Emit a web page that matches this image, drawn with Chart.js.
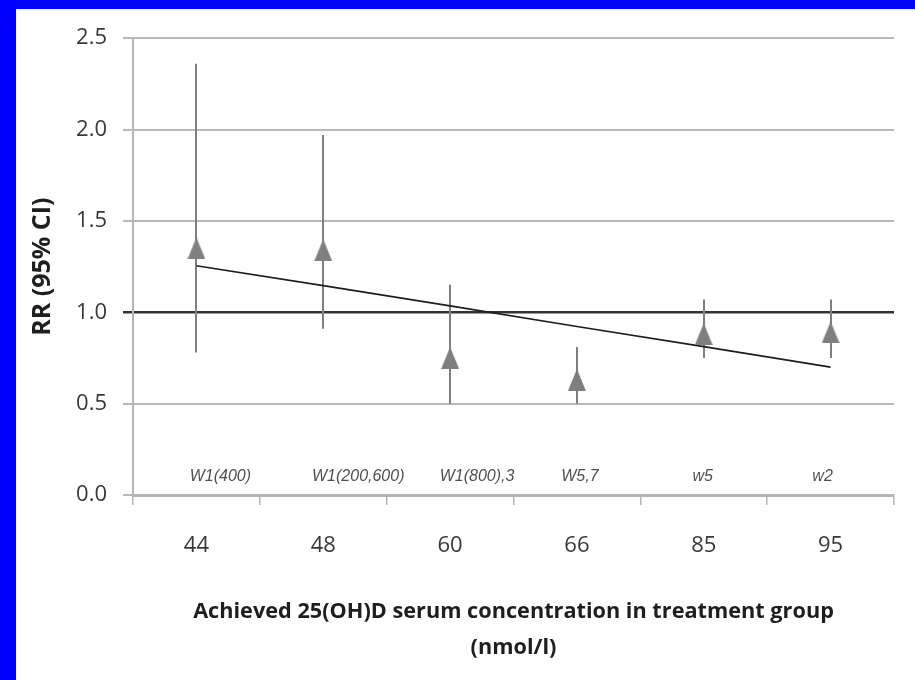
<!DOCTYPE html>
<html>
<head>
<meta charset="utf-8">
<title>RR by achieved 25(OH)D</title>
<script src="https://cdn.jsdelivr.net/npm/chart.js@4.4.1/dist/chart.umd.min.js"></script>
<style>
  html, body { margin: 0; padding: 0; background: #fff; }
  #frame { position: relative; width: 915px; height: 680px; overflow: hidden; background: #fff; }
  .edge { position: absolute; background: #0000ff; }
  #edge-top { left: 0; top: 0; width: 915px; height: 9px; }
  #edge-left { left: 0; top: 0; width: 16px; height: 680px; }
  #chart-box { position: absolute; left: 16px; top: 9px; width: 899px; height: 671px; }
</style>
</head>
<body>
<div id="frame">
  <div class="edge" id="edge-top"></div>
  <div class="edge" id="edge-left"></div>
  <div id="chart-box"><canvas id="chart-rr"></canvas></div>
</div>
<script>
const concentrations = ["44", "48", "60", "66", "85", "95"];
const trialNotes = ["W1(400)", "W1(200,600)", "W1(800),3", "W5,7", "w5", "w2"];
const rr = [1.35, 1.34, 0.75, 0.63, 0.88, 0.89];
const ciLow = [0.78, 0.91, 0.50, 0.50, 0.75, 0.75];
const ciHigh = [2.36, 1.97, 1.15, 0.81, 1.07, 1.07];
const trend = [1.255, 1.146, 1.035, 0.922, 0.812, 0.70];
const yTicks = [0, 0.5, 1.0, 1.5, 2.0, 2.5];

const GREY = "#7f7f7f";
const TEXT = "#383838";
// nudges of the in-plot study labels, they are not centred on their category in the original
const noteShift = [24, 35, 27, 3, -1, -8];

function triangleMarker(w, h, color) {
  const c = document.createElement("canvas");
  c.width = w;
  c.height = h;
  const ctx = c.getContext("2d");
  ctx.fillStyle = color;
  ctx.beginPath();
  ctx.moveTo(w / 2, 0);
  ctx.lineTo(w, h);
  ctx.lineTo(0, h);
  ctx.closePath();
  ctx.fill();
  return c;
}

const errorBars = {
  id: "errorBars",
  beforeDatasetsDraw(chart) {
    const { ctx, scales: { x, y } } = chart;
    ctx.save();
    ctx.strokeStyle = GREY;
    ctx.lineWidth = 2;
    concentrations.forEach((cat, i) => {
      const px = Math.round(x.getPixelForValue(i));
      ctx.beginPath();
      ctx.moveTo(px, y.getPixelForValue(ciHigh[i]));
      ctx.lineTo(px, y.getPixelForValue(ciLow[i]));
      ctx.stroke();
    });
    ctx.restore();
  },
};

const studyNotes = {
  id: "studyNotes",
  afterDatasetsDraw(chart) {
    const { ctx, scales: { x, y } } = chart;
    ctx.save();
    ctx.font = "italic 16px 'Liberation Sans Narrow', 'Liberation Sans', sans-serif";
    ctx.fillStyle = "#505050";
    ctx.textAlign = "center";
    ctx.textBaseline = "middle";
    trialNotes.forEach((note, i) => {
      ctx.fillText(note, x.getPixelForValue(i) + noteShift[i], y.getPixelForValue(0.1));
    });
    ctx.restore();
  },
};

new Chart(document.getElementById("chart-rr"), {
  type: "line",
  data: {
    labels: concentrations,
    datasets: [
      {
        label: "RR",
        data: rr,
        showLine: false,
        pointStyle: triangleMarker(18, 22, GREY),
        pointRadius: 9,
        pointHoverRadius: 9,
        order: 1,
      },
      {
        label: "Trend",
        data: trend,
        borderColor: "#1e1e1e",
        borderWidth: 1.6,
        pointRadius: 0,
        fill: false,
        order: 2,
      },
    ],
  },
  options: {
    responsive: true,
    maintainAspectRatio: false,
    animation: false,
    events: [],
    layout: { padding: { top: 28, right: 21, left: 0, bottom: 0 } },
    plugins: { legend: { display: false }, tooltip: { enabled: false } },
    scales: {
      x: {
        offset: true,
        afterFit: (scale) => { scale.height = 185; },
        grid: {
          offset: true,
          drawOnChartArea: false,
          drawTicks: true,
          tickLength: 10,
          color: "#b5b5b5",
          lineWidth: 1.5,
        },
        border: { display: true, color: "#b5b5b5", width: 3 },
        ticks: {
          color: TEXT,
          padding: 28,
          font: { family: "'Open Sans', sans-serif", size: 22 },
        },
        title: {
          display: true,
          text: ["Achieved 25(OH)D serum concentration in treatment group", "(nmol/l)"],
          color: "#1e1e1e",
          padding: { top: 0, bottom: 14 },
          font: { family: "'Open Sans', sans-serif", size: 21.7, weight: "bold", lineHeight: 1.66 },
        },
      },
      y: {
        min: 0,
        max: 2.5,
        afterFit: (scale) => { scale.width = 117; },
        afterBuildTicks: (scale) => { scale.ticks = yTicks.map((v) => ({ value: v })); },
        grid: {
          color: (c) => (c.tick && c.tick.value === 1 ? "#333333" : "#b8b8b8"),
          lineWidth: (c) => (c.tick && c.tick.value === 1 ? 2.5 : 2),
          tickLength: 10,
        },
        border: { display: true, color: "#b5b5b5", width: 2 },
        ticks: {
          color: TEXT,
          padding: 16,
          font: { family: "'Open Sans', sans-serif", size: 22 },
          callback: (v) => Number(v).toFixed(1),
        },
        title: {
          display: true,
          text: "RR (95% CI)",
          color: "#1e1e1e",
          padding: { top: 12, bottom: 0 },
          font: { family: "'Open Sans', sans-serif", size: 25, weight: "bold" },
        },
      },
    },
  },
  plugins: [errorBars, studyNotes],
});
</script>
</body>
</html>
